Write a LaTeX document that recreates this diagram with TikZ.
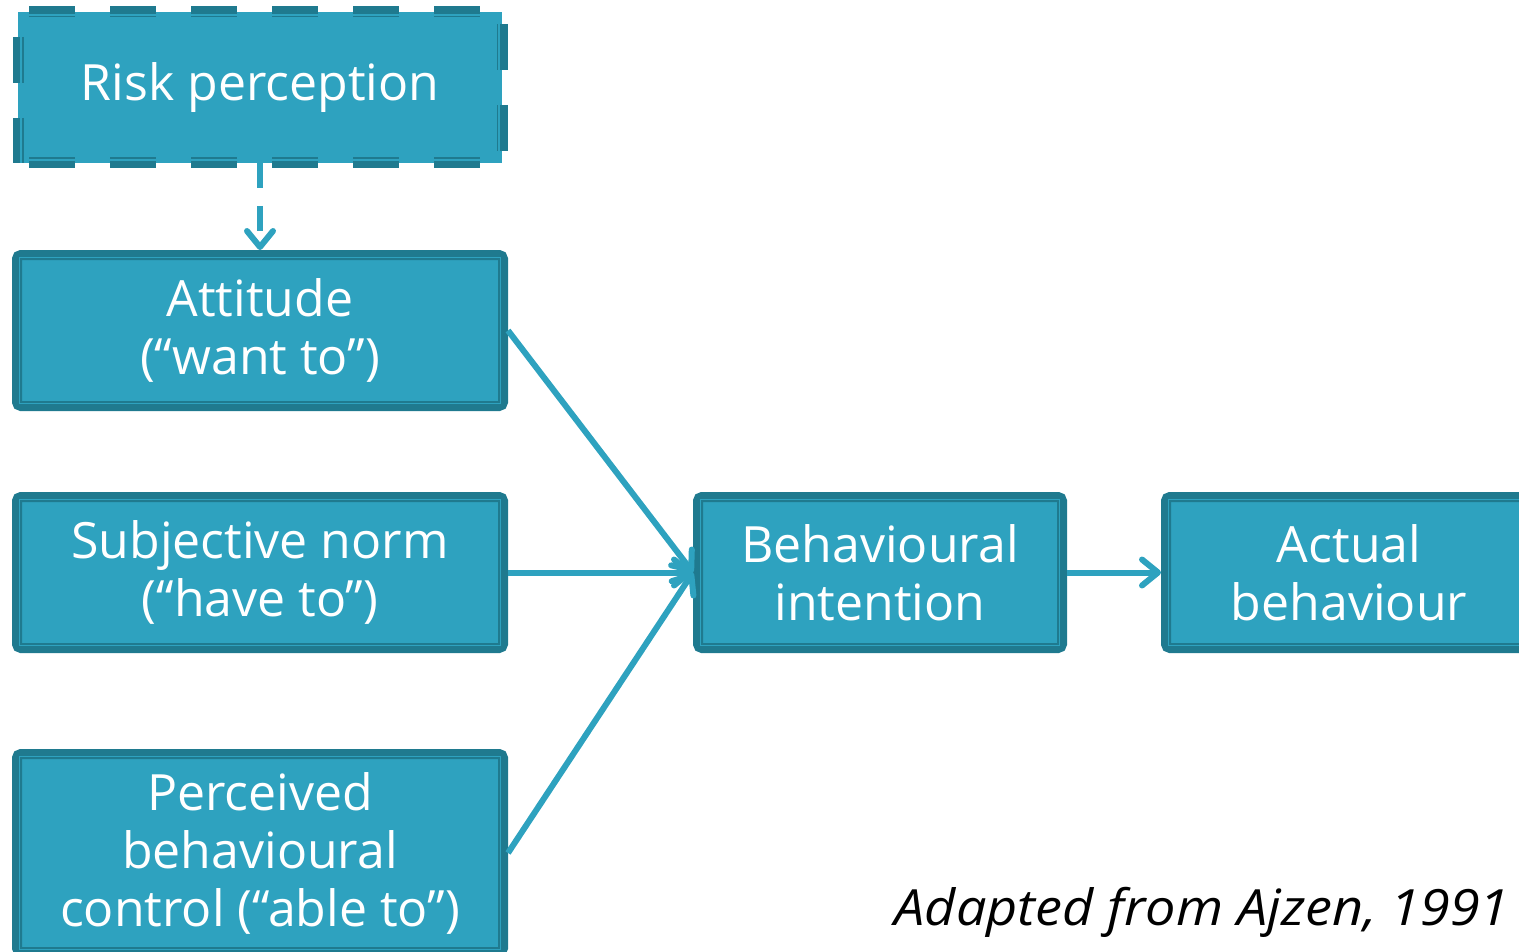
\documentclass[tikz,border=0pt]{standalone}
\usepackage{fontspec}
\setmainfont{Open Sans}
\usetikzlibrary{arrows.meta}
\definecolor{tealfill}{HTML}{2EA2BF}
\definecolor{tealdark}{HTML}{1F7A8F}
\newcommand{\boxfont}{\fontsize{25}{29}\selectfont}
\tikzset{
  box/.style={rectangle, fill=tealfill, draw=tealdark, line width=5pt, outer sep=2.5pt,
    rounded corners=2pt, inner sep=0pt, text=white, font=\boxfont, align=center},
  innerline/.style={draw=tealfill, line width=0.75pt},
  rdash/.style={draw=tealdark, line width=5.5pt, dash pattern=on 23pt off 17.5pt},
  rdashin/.style={draw=tealfill, line width=0.75pt, dash pattern=on 23pt off 17.5pt},
  conn/.style={draw=tealfill, line width=3pt, -{Straight Barb[round, length=8pt, width=13pt]}}
}
\begin{document}
\begin{tikzpicture}[x=0.5pt, y=-0.5pt]
\useasboundingbox (0,0) rectangle (1519,952);
\clip (0,0) rectangle (1519,952);
% risk perception (dashed)
\node[rectangle, fill=tealfill, minimum width=242pt, minimum height=75.5pt, outer sep=0pt,
      inner sep=0pt, text=white, font=\boxfont] (risk) at (260,87.5) {Risk perception};
\draw[rdash, dash phase=35pt] (risk.north west) -- (risk.north east);
\draw[rdash, dash phase=35pt] (risk.south west) -- (risk.south east);
\draw[rdash, dash phase=28pt] (risk.north west) -- (risk.south west);
\draw[rdash, dash phase=34.5pt] (risk.north east) -- (risk.south east);
\draw[rdashin, dash phase=35pt] ([yshift=-1.5pt]risk.north west) -- ([yshift=-1.5pt]risk.north east);
\draw[rdashin, dash phase=35pt] ([yshift=1.5pt]risk.south west) -- ([yshift=1.5pt]risk.south east);
\draw[rdashin, dash phase=28pt] ([xshift=1.5pt]risk.north west) -- ([xshift=1.5pt]risk.south west);
\draw[rdashin, dash phase=34.5pt] ([xshift=-1.5pt]risk.north east) -- ([xshift=-1.5pt]risk.south east);
% solid boxes
\node[box, minimum width=243pt, minimum height=75.5pt] (att) at (260,330.5) {Attitude\\(“want to”)};
\node[box, minimum width=243pt, minimum height=75.5pt] (sub) at (260,572.5) {Subjective norm\\(“have to”)};
\node[box, minimum width=243pt, minimum height=99pt] (pbc) at (260,853) {Perceived\\behavioural\\control (“able to”)};
\node[box, minimum width=182pt, minimum height=75.5pt] (bi) at (880,572.5) {Behavioural\\intention};
\node[box, minimum width=183pt, minimum height=75.5pt] (act) at (1349,572.5) {Actual\\behaviour};
\foreach \n in {att,sub,pbc,bi,act}
  \draw[innerline] ([shift={(3.75pt,-3.75pt)}]\n.north west) rectangle ([shift={(-3.75pt,3.75pt)}]\n.south east);
% connectors
\draw[conn, dash pattern=on 12.5pt off 9pt] (risk.south) -- (att.north);
\draw[conn] (att.east) -- (bi.west);
\draw[conn] (sub.east) -- (bi.west);
\draw[conn] (pbc.east) -- (bi.west);
\draw[conn] (bi.east) -- (act.west);
% citation
\node[anchor=base east, inner sep=0pt, font=\boxfont\itshape, text=black] (cite) at (1510,925) {\scalebox{1.08}[1]{Adapted from Ajzen, 1991}};
\end{tikzpicture}
\end{document}
